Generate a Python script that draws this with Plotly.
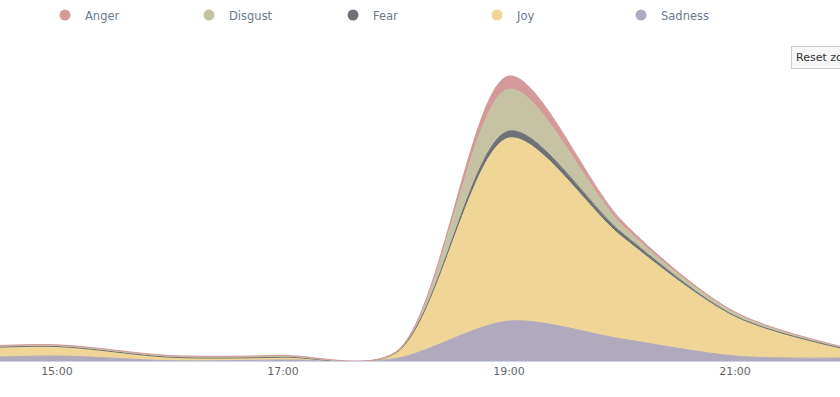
import plotly.graph_objects as go

times = ["2020-01-01 14:00", "2020-01-01 15:00", "2020-01-01 16:00", "2020-01-01 17:00",
         "2020-01-01 18:00", "2020-01-01 19:00", "2020-01-01 20:00", "2020-01-01 21:00",
         "2020-01-01 22:00"]

sadness = [2, 5, 0.3, 1, 2.5, 40, 22, 5, 3]
joy = [9, 9, 3, 2.5, 5.5, 183, 102, 39, 8]
fear = [0.5, 0.5, 0.5, 0.3, 0.3, 7, 4, 1, 0.3]
disgust = [1, 1, 1, 1, 0.5, 42, 8, 3, 1]
anger = [0.6, 0.7, 0.7, 0.7, 0.4, 13, 4, 1, 0.5]

tick_vals = ["2020-01-01 15:00", "2020-01-01 17:00", "2020-01-01 19:00", "2020-01-01 21:00"]
tick_text = ["15:00", "17:00", "19:00", "21:00"]

series = [
    ("Sadness", sadness, "#b1a9bd"),
    ("Joy", joy, "#efd596"),
    ("Fear", fear, "#6e7177"),
    ("Disgust", disgust, "#c5c3a3"),
    ("Anger", anger, "#d49a99"),
]

fig = go.Figure()
for name, vals, col in series:
    fig.add_trace(go.Scatter(
        x=times, y=vals, name=name, stackgroup="one", mode="lines",
        line=dict(shape="spline", smoothing=0.85, width=1, color=col),
        fillcolor=col, showlegend=False, hoverinfo="x+y+name",
    ))

for name, vals, col in reversed(series):
    fig.add_trace(go.Scatter(
        x=[None], y=[None], name=name, mode="markers",
        marker=dict(symbol="circle", size=11, color=col),
        showlegend=True,
    ))

fig.update_layout(
    width=840, height=397,
    margin=dict(l=0, r=0, t=40, b=36),
    paper_bgcolor="white", plot_bgcolor="white",
    font=dict(family="DejaVu Sans", size=11, color="#666666"),
    legend=dict(
        orientation="h", x=45 / 840, xanchor="left",
        yref="container", y=1 - 15 / 397, yanchor="middle",
        entrywidth=99, entrywidthmode="pixels",
        traceorder="normal",
        font=dict(size=11.5, color="#6b7b8c"),
        itemclick=False,
    ),
    xaxis=dict(
        range=["2020-01-01 14:29:45", "2020-01-01 21:55:45"],
        tickvals=tick_vals, ticktext=tick_text,
        showgrid=False, zeroline=False,
        showline=True, linecolor="#ccd6eb", linewidth=1,
        ticks="", tickfont=dict(size=11, color="#666666"),
    ),
    yaxis=dict(range=[0, 321], visible=False),
    annotations=[dict(
        xref="paper", yref="paper", x=791 / 840, y=(397 - 36 - 57) / 321,
        xanchor="left", yanchor="middle", showarrow=False,
        text="Reset zoom", font=dict(size=11, color="#333333"),
        bgcolor="#f7f7f7", bordercolor="#cccccc", borderwidth=1, borderpad=4,
    )],
)

fig.write_html("out.html", config={"displayModeBar": False},
               post_script="document.body.style.margin='0px';")
